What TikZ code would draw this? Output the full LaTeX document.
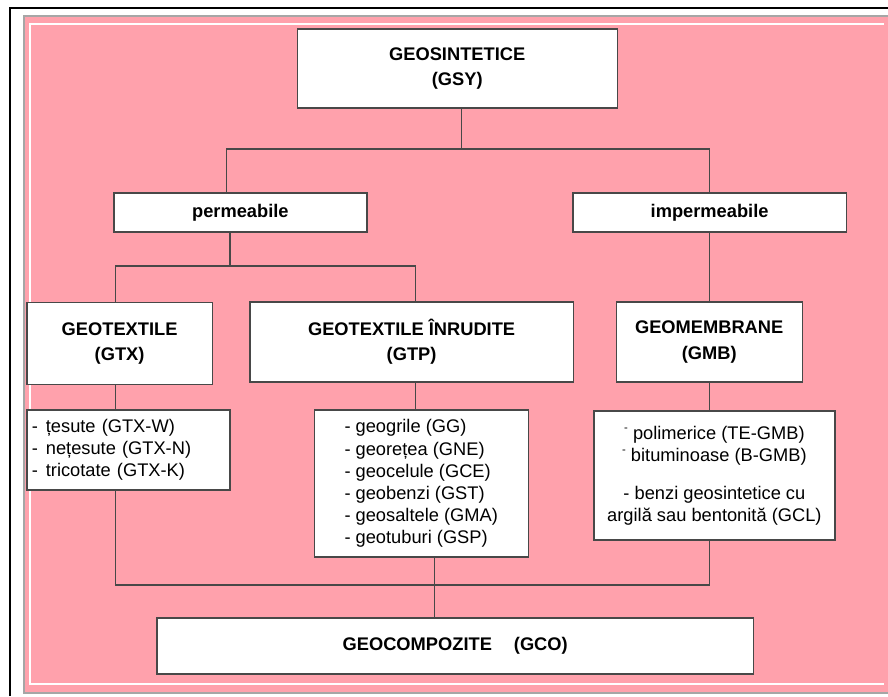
\documentclass[tikz,border=0pt]{standalone}
\usepackage{fontspec}
\setmainfont{Liberation Sans}
\definecolor{rosefill}{RGB}{255,161,172}
\definecolor{lineclr}{RGB}{72,72,72}

\begin{document}
\begin{tikzpicture}[
  box/.style={draw=lineclr, line width=1pt, fill=white, inner sep=2pt, align=center,
    font=\fontsize{13}{18}\selectfont\bfseries},
  listbox/.style={draw=lineclr, line width=1pt, fill=white, inner sep=2pt,
    font=\fontsize{13}{15.8}\selectfont},
  link/.style={lineclr, line width=0.8pt}]
\useasboundingbox (0,0) rectangle (22.2,-17.4);
% frame and pink ground
\fill[rosefill] (0.62,-0.42) rectangle (22.2,-17.3);
\draw[line width=1.5pt] (0.25,-17.4) -- (0.25,-0.2) -- (22.2,-0.2);
\draw[gray!70, line width=1pt] (22.2,-0.4) -- (0.6,-0.4) -- (0.6,-17.32) -- (22.2,-17.32);
\draw[white, line width=0.8pt] (22.1,-0.6) -- (0.75,-0.6) -- (0.75,-17.1) -- (22.1,-17.1);

% boxes
\node[box, minimum width=8cm, minimum height=1.975cm] (gsy) at (11.43,-1.71) {GEOSINTETICE\\(GSY)};
\node[box, minimum width=6.33cm, minimum height=0.975cm] (perm) at (6.01,-5.31) {permeabile};
\node[box, minimum width=6.83cm, minimum height=0.975cm] (imperm) at (17.74,-5.31) {impermeabile};
\node[box, minimum width=4.63cm, minimum height=2.05cm] (gtx) at (2.99,-8.58) {GEOTEXTILE\\(GTX)};
\node[box, minimum width=8.08cm, minimum height=2cm] (gtp) at (10.29,-8.55) {GEOTEXTILE ÎNRUDITE\\(GTP)};
\node[box, minimum width=4.65cm, minimum height=2cm] (gmb) at (17.73,-8.55) {GEOMEMBRANE\\(GMB)};

\node[listbox, inner sep=0.12cm, text width=4.83cm, minimum height=2cm, align=left] (gtxl) at (3.21,-11.25)
  {-\hspace{0.2cm}țesute (GTX-W)\\-\hspace{0.2cm}nețesute (GTX-N)\\-\hspace{0.2cm}tricotate (GTX-K)};
\node[listbox, minimum width=5.35cm, minimum height=3.675cm, align=left] (gtpl) at (10.53,-12.09)
  {- geogrile (GG)\\- georețea (GNE)\\- geocelule (GCE)\\- geobenzi (GST)\\- geosaltele (GMA)\\- geotuburi (GSP)};
\node[listbox, minimum width=6.03cm, minimum height=3.225cm, align=center] (gmbl) at (17.86,-11.89)
  {\raisebox{0.45em}{\footnotesize -} polimerice (TE-GMB)\\\raisebox{0.45em}{\footnotesize -} bituminoase (B-GMB)\\[0.38cm]
   - benzi geosintetice cu\\argilă sau bentonită (GCL)};

\node[box, minimum width=14.9cm, minimum height=1.4cm] (gco) at (11.38,-16.15) {GEOCOMPOZITE\hspace{0.55cm}(GCO)};

% connectors
\coordinate (topbar) at (0,-3.725);
\coordinate (midbar) at (0,-6.65);
\coordinate (lowbar) at (0,-14.625);
\coordinate (perm-in) at ([xshift=-0.34cm]perm.north);
\coordinate (perm-out) at ([xshift=-0.26cm]perm.south);
\coordinate (gtx-in) at ([xshift=-0.11cm]gtx.north);
\coordinate (gtp-in) at ([xshift=0.09cm]gtp.north);
\coordinate (gtpl-out) at ([xshift=0.33cm]gtpl.south);

\draw[link] ([xshift=0.1cm]gsy.south) -- ([xshift=0.1cm]gsy.south |- topbar);
\draw[link] (perm-in) |- (topbar -| imperm.north) -- (imperm.north);
\draw[link] (perm-out) -- (perm-out |- midbar);
\draw[link] (gtx-in) |- (midbar -| gtp-in) -- (gtp-in);
\draw[link] (imperm.south -| gmb.north) -- (gmb.north);
\draw[link] (gtx-in |- gtx.south) -- (gtx-in |- gtxl.north);
\draw[link] (gtp-in |- gtp.south) -- (gtp-in |- gtpl.north);
\draw[link] (gmb.south) -- (gmb.south |- gmbl.north);
\draw[link] (gtx-in |- gtxl.south) |- (lowbar -| gmb.south) -- (gmb.south |- gmbl.south);
\draw[link] (gtpl-out) -- (gtpl-out |- gco.north);
\end{tikzpicture}
\end{document}
